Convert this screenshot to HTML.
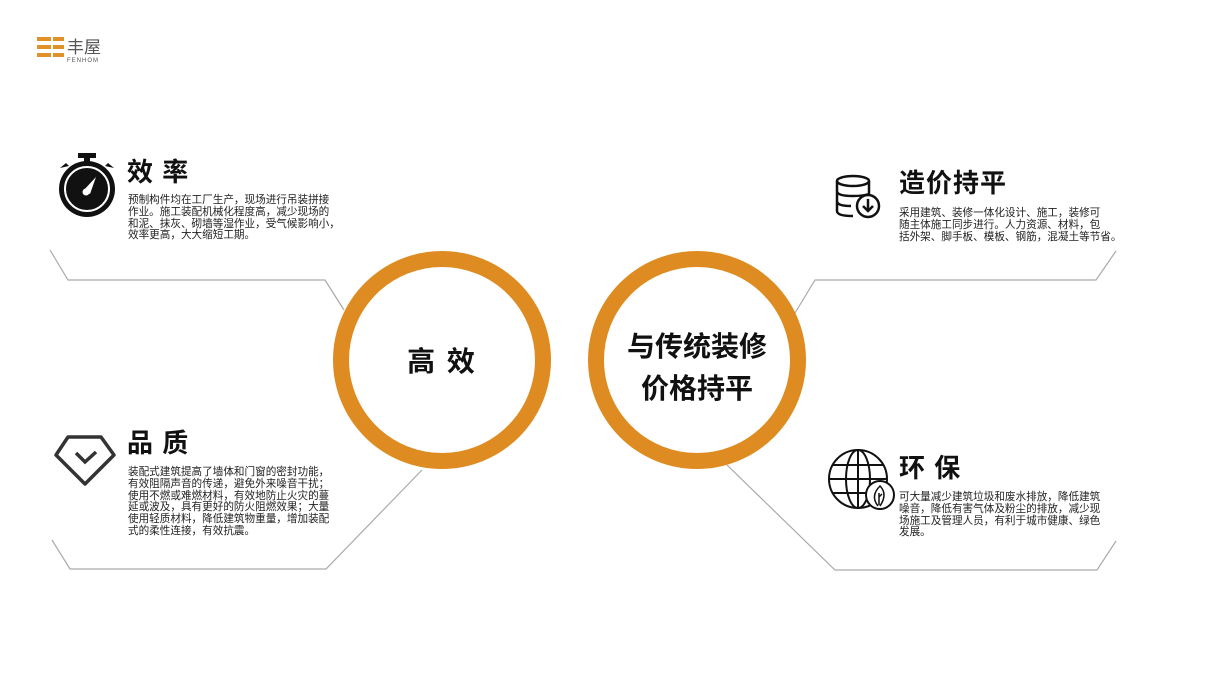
<!DOCTYPE html>
<html><head><meta charset="utf-8"><style>
body{margin:0;width:1205px;height:674px;background:#fff;position:relative;overflow:hidden;font-family:"Liberation Sans","Noto Sans CJK SC",sans-serif;}
.t{position:absolute;font-weight:bold;font-size:26px;color:#111;letter-spacing:1px;}
.p{position:absolute;font-size:10.6px;line-height:11.8px;color:#222;white-space:nowrap;}
.c{position:absolute;font-weight:bold;color:#111;text-align:center;}
</style></head><body>
<svg width="1205" height="674" style="position:absolute;left:0;top:0">
<g fill="#e0912a">
<rect x="37" y="37" width="14" height="4"/><rect x="53" y="37" width="11" height="4"/>
<rect x="37" y="45" width="14" height="4"/><rect x="53" y="45" width="11" height="4"/>
<rect x="37" y="53" width="14" height="4"/><rect x="53" y="53" width="11" height="4"/>
</g>
<text x="67" y="53" font-size="17" fill="#555" font-family="Noto Sans CJK SC">丰屋</text>
<text x="67" y="62" font-size="6" fill="#555" font-family="Liberation Sans" letter-spacing="1">FENHOM</text>
<g stroke="#aaa" stroke-width="1.2" fill="none">
<polyline points="50,250 68,280 325,280 344,310"/>
<polyline points="52,540 70,569 326,569 422,470"/>
<polyline points="795,313 815,280 1096,280 1116,251"/>
<polyline points="727,465 835,570 1097,570 1116,541"/>
</g>
<circle cx="442" cy="360" r="101" fill="#fff" stroke="#de8c21" stroke-width="16"/>
<circle cx="697" cy="360" r="101" fill="#fff" stroke="#de8c21" stroke-width="16"/>
<rect x="78" y="153" width="18" height="5" fill="#111"/><rect x="84" y="156" width="6" height="6" fill="#111"/>
<circle cx="87" cy="189" r="28" fill="#111"/>
<circle cx="87" cy="189" r="22" fill="none" stroke="#fff" stroke-width="2"/>
<path d="M60,168 l6,-5 l3,3 z M114,168 l-6,-5 l-3,3 z" fill="#111"/>
<path d="M83,191 L96,177 L90,194 Z" fill="#fff"/><circle cx="86" cy="192" r="3.5" fill="#fff"/>
<path d="M68,437 L101,437 L114,455 L85,484 L56,455 Z" fill="none" stroke="#333" stroke-width="3.5" stroke-linejoin="round"/>
<polyline points="76,453 85,462 96,452" fill="none" stroke="#333" stroke-width="3.5"/>
<g fill="none" stroke="#111" stroke-width="2.5">
<ellipse cx="853" cy="181" rx="16" ry="5"/>
<path d="M837,181 v30 q0,5 16,5 M869,181 v14 M837,191 q0,5 16,5 q10,0 16,-2 M837,201 q0,5 14,5"/>
<circle cx="868" cy="206" r="11"/>
<path d="M868,199 v12 M863,206 l5,5 l5,-5"/>
</g>
<g fill="none" stroke="#111" stroke-width="2">
<circle cx="858" cy="479" r="29"/>
<ellipse cx="858" cy="479" rx="12" ry="29"/>
<line x1="858" y1="450" x2="858" y2="508"/>
<line x1="829" y1="479" x2="887" y2="479"/>
<line x1="833" y1="465" x2="883" y2="465"/>
<line x1="833" y1="493" x2="875" y2="493"/>
</g>
<circle cx="880" cy="495" r="14" fill="#fff" stroke="#111" stroke-width="2"/>
<path d="M878,506 q-8,-10 2,-20 q8,8 0,20 M879,505 v-12 M879,497 l3,-3" fill="none" stroke="#111" stroke-width="1.5"/>
</svg>
<div class="t" style="left:127px;top:152px">效 率</div>
<div class="p" style="left:128px;top:195px">预制构件均在工厂生产，现场进行吊装拼接<br>作业。施工装配机械化程度高，减少现场的<br>和泥、抹灰、砌墙等湿作业，受气候影响小，<br>效率更高，大大缩短工期。</div>
<div class="t" style="left:127px;top:423px">品 质</div>
<div class="p" style="left:128px;top:467px">装配式建筑提高了墙体和门窗的密封功能，<br>有效阻隔声音的传递，避免外来噪音干扰；<br>使用不燃或难燃材料，有效地防止火灾的蔓<br>延或波及，具有更好的防火阻燃效果；大量<br>使用轻质材料，降低建筑物重量，增加装配<br>式的柔性连接，有效抗震。</div>
<div class="t" style="left:899px;top:163px">造价持平</div>
<div class="p" style="left:899px;top:208px">采用建筑、装修一体化设计、施工，装修可<br>随主体施工同步进行。人力资源、材料，包<br>括外架、脚手板、模板、钢筋，混凝土等节省。</div>
<div class="t" style="left:899px;top:448px">环 保</div>
<div class="p" style="left:899px;top:492px">可大量减少建筑垃圾和废水排放，降低建筑<br>噪音，降低有害气体及粉尘的排放，减少现<br>场施工及管理人员，有利于城市健康、绿色<br>发展。</div>
<div class="c" style="left:342px;top:340px;width:200px;font-size:28px;letter-spacing:2px">高 效</div>
<div class="c" style="left:597px;top:326px;width:200px;font-size:28px;line-height:42px">与传统装修<br>价格持平</div>
</body></html>
